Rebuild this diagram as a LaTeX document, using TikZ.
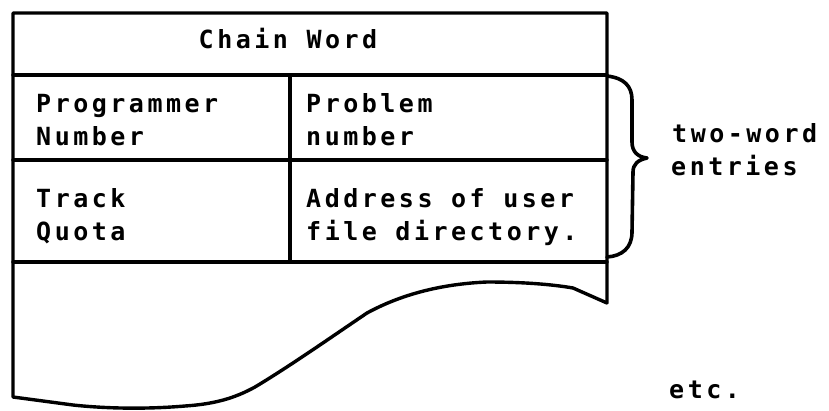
\documentclass[tikz,border=0pt]{standalone}
\usepackage{fontspec}
\setmonofont[LetterSpace=14,BoldFont={DejaVu Sans Mono Bold}]{DejaVu Sans Mono}
\begin{document}
\begin{tikzpicture}[x=1pt,y=-1pt,
  frame/.style={line width=3.4pt,line join=round,line cap=round},
  lbl/.style={inner sep=0pt,anchor=base west,font=\ttfamily\bfseries\fontsize{25}{29}\selectfont}]
\useasboundingbox (0,0) rectangle (829,410);
% corners of the torn sheet
\coordinate (tl) at (13,13);
\coordinate (tr) at (607,13);
\coordinate (br) at (607,303);
\coordinate (bl) at (13,397);
% outer frame with torn bottom
\draw[frame] (br) -- (tr) -- (tl) -- (bl)
  -- (73,405) .. controls (110,409) and (150,409) .. (185,406)
  .. controls (215,404) and (235,398) .. (255,387)
  .. controls (290,366) and (330,338) .. (367,313)
  .. controls (400,295) and (440,284) .. (487,282)
  .. controls (520,282) and (550,284) .. (573,288)
  -- (br);
% row lines
\draw[frame] (13,75) -- (607,75);
\draw[frame] (13,160) -- (607,160);
\draw[frame] (13,262) -- (607,262);
\draw[frame] (290,75) -- (290,262);
% texts
\node[lbl,anchor=base] (cw) at (288,48) {Chain Word};
\node[lbl] (p1) at (36,112) {Programmer};
\node[lbl] (p2) at (36,145) {Number};
\node[lbl] (q1) at (306,112) {Problem};
\node[lbl] (q2) at (306,145) {number};
\node[lbl] (t1) at (36,207) {Track};
\node[lbl] (t2) at (36,240) {Quota};
\node[lbl] (a1) at (306,207) {Address of user};
\node[lbl] (a2) at (306,240) {file directory.};
% brace
\draw[line width=3.6pt,line cap=round,line join=round] (607,76)
  .. controls (624,78) and (632,86) .. (632,100)
  -- (632,142) .. controls (632,152) and (638,157) .. (647,158)
  .. controls (638,160) and (633,164) .. (633,172)
  -- (632,232) .. controls (632,248) and (622,256) .. (607,257);
\node[lbl] (tw) at (672,142) {two-word};
\node[lbl] (en) at (671,175) {entries};
\node[lbl] (etc) at (669,398) {etc.};
\end{tikzpicture}
\end{document}
